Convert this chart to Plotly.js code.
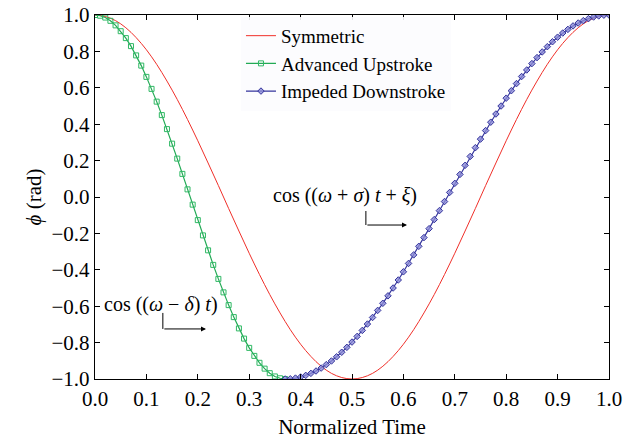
<!DOCTYPE html>
<html>
<head>
<meta charset="utf-8">
<script src="https://cdn.plot.ly/plotly-3.0.1.min.js"></script>
<style>html,body{margin:0;padding:0;background:#fff;}#plot{width:637px;height:441px;}</style>
</head>
<body>
<div id="plot"></div>
<script>
// Symmetric (step 0.02)
const symT = [0.00,0.02,0.04,0.06,0.08,0.10,0.12,0.14,0.16,0.18,0.20,0.22,0.24,0.26,0.28,0.30,0.32,0.34,0.36,0.38,0.40,0.42,0.44,0.46,0.48,0.50,
  0.52,0.54,0.56,0.58,0.60,0.62,0.64,0.66,0.68,0.70,0.72,0.74,0.76,0.78,0.80,0.82,0.84,0.86,0.88,0.90,0.92,0.94,0.96,0.98,1.00];
const symPhi = [1.000,0.992,0.969,0.930,0.876,0.809,0.729,0.637,0.536,0.426,0.309,0.187,0.063,-0.063,-0.187,-0.309,-0.426,-0.536,-0.637,-0.729,-0.809,-0.876,-0.930,-0.969,-0.992,-1.000,
  -0.992,-0.969,-0.930,-0.876,-0.809,-0.729,-0.637,-0.536,-0.426,-0.309,-0.187,-0.063,0.063,0.187,0.309,0.426,0.536,0.637,0.729,0.809,0.876,0.930,0.969,0.992,1.000];

// Advanced Upstroke (step 0.01, 0 to 0.37)
const advT = [0.00,0.01,0.02,0.03,0.04,0.05,0.06,0.07,0.08,0.09,0.10,0.11,0.12,0.13,0.14,0.15,0.16,0.17,0.18,0.19,
  0.20,0.21,0.22,0.23,0.24,0.25,0.26,0.27,0.28,0.29,0.30,0.31,0.32,0.33,0.34,0.35,0.36,0.37];
const advPhi = [1.000,0.996,0.986,0.968,0.943,0.911,0.873,0.829,0.778,0.722,0.660,0.594,0.524,0.450,0.373,0.293,0.211,0.127,0.042,
  -0.042,-0.127,-0.211,-0.293,-0.373,-0.450,-0.524,-0.594,-0.660,-0.722,-0.778,-0.829,-0.873,-0.911,-0.943,-0.968,-0.986,-0.996,-1.000];

// Impeded Downstroke (step 0.01, 0.37 to 1.00)
const impT = [0.37,0.38,0.39,0.40,0.41,0.42,0.43,0.44,0.45,0.46,0.47,0.48,0.49,0.50,0.51,0.52,0.53,0.54,0.55,0.56,0.57,0.58,0.59,0.60,0.61,0.62,0.63,0.64,0.65,0.66,0.67,0.68,
  0.69,0.70,0.71,0.72,0.73,0.74,0.75,0.76,0.77,0.78,0.79,0.80,0.81,0.82,0.83,0.84,0.85,0.86,0.87,0.88,0.89,0.90,0.91,0.92,0.93,0.94,0.95,0.96,0.97,0.98,0.99,1.00];
const impPhi = [-1.000,-0.999,-0.995,-0.989,-0.980,-0.969,-0.956,-0.940,-0.921,-0.901,-0.878,-0.853,-0.826,-0.797,-0.766,-0.733,-0.698,-0.662,-0.623,-0.584,-0.543,-0.500,-0.456,-0.411,-0.365,-0.318,-0.271,-0.223,-0.174,-0.124,-0.075,-0.025,
  0.025,0.075,0.124,0.174,0.223,0.271,0.318,0.365,0.411,0.456,0.500,0.543,0.584,0.623,0.662,0.698,0.733,0.766,0.797,0.826,0.853,0.878,0.901,0.921,0.940,0.956,0.969,0.980,0.989,0.995,0.999,1.000];

const xTicks = [0.0,0.1,0.2,0.3,0.4,0.5,0.6,0.7,0.8,0.9,1.0];
const yTicks = [-1.0,-0.8,-0.6,-0.4,-0.2,0.0,0.2,0.4,0.6,0.8,1.0];

const serif = "'Liberation Serif', 'Times New Roman', 'DejaVu Serif', serif";

const traces = [
  {x: symT, y: symPhi, name: 'Symmetric', mode: 'lines', line: {color: '#f0302a', width: 1, shape: 'spline'}},
  {x: advT, y: advPhi, name: 'Advanced Upstroke', mode: 'lines+markers',
   line: {color: '#22aa55', width: 1.2},
   marker: {symbol: 'square-open', size: 5, color: '#2fb864', line: {width: 1}}},
  {x: impT, y: impPhi, name: 'Impeded Downstroke', mode: 'lines+markers',
   line: {color: '#34349c', width: 1.2},
   marker: {symbol: 'diamond', size: 5, color: 'rgba(140,140,215,0.8)', line: {color: '#34349c', width: 1}}}
];

const axisCommon = {
  showgrid: false, zeroline: false, showline: true, linecolor: '#000', linewidth: 1.3,
  mirror: 'ticks', ticks: 'inside', ticklen: 5, tickcolor: '#000', tickwidth: 1,
  tickfont: {family: serif, size: 21, color: '#000'}
};

const layout = {
  width: 637, height: 441,
  margin: {l: 95, r: 28, t: 15, b: 62},
  paper_bgcolor: '#fff', plot_bgcolor: '#fff',
  font: {family: serif},
  showlegend: true,
  legend: {x: 0.284, y: 0.995, xanchor: 'left', yanchor: 'top', bgcolor: 'rgba(252,252,254,0.9)',
           font: {family: serif, size: 19, color: '#000'}, itemwidth: 30, tracegroupgap: 0},
  xaxis: Object.assign({}, axisCommon, {range: [0, 1], tickvals: xTicks, tickformat: '.1f',
    title: {text: 'Normalized Time', font: {family: serif, size: 21, color: '#000'}, standoff: 9}}),
  yaxis: Object.assign({}, axisCommon, {range: [-1, 1], tickvals: yTicks, tickformat: '.1f',
    title: {text: '<i>ϕ</i> (rad)', font: {family: serif, size: 21, color: '#000'}, standoff: 4}}),
  shapes: [
    {type: 'line', xref: 'x', yref: 'y', x0: 0.132, x1: 0.132, y0: -0.637, y1: -0.725, line: {color: '#000', width: 1}},
    {type: 'line', xref: 'x', yref: 'y', x0: 0.527, x1: 0.527, y0: -0.077, y1: -0.154, line: {color: '#000', width: 1}}
  ],
  annotations: [
    {x: 0.129, y: -0.588, xref: 'x', yref: 'y', showarrow: false,
     text: 'cos ((<i>ω</i> − <i>δ</i>) <i>t</i>)', font: {family: serif, size: 20, color: '#000'}},
    {x: 0.486, y: 0.011, xref: 'x', yref: 'y', showarrow: false,
     text: 'cos ((<i>ω</i> + <i>σ</i>) <i>t</i> + <i>ξ</i>)', font: {family: serif, size: 20, color: '#000'}},
    {x: 0.216, y: -0.725, ax: 0.132, ay: -0.725, xref: 'x', yref: 'y', axref: 'x', ayref: 'y',
     showarrow: true, arrowhead: 2, arrowsize: 1, arrowwidth: 1, arrowcolor: '#000', text: ''},
    {x: 0.607, y: -0.154, ax: 0.527, ay: -0.154, xref: 'x', yref: 'y', axref: 'x', ayref: 'y',
     showarrow: true, arrowhead: 2, arrowsize: 1, arrowwidth: 1, arrowcolor: '#000', text: ''}
  ]
};

Plotly.newPlot('plot', traces, layout, {displayModeBar: false, staticPlot: true});
</script>
</body>
</html>
